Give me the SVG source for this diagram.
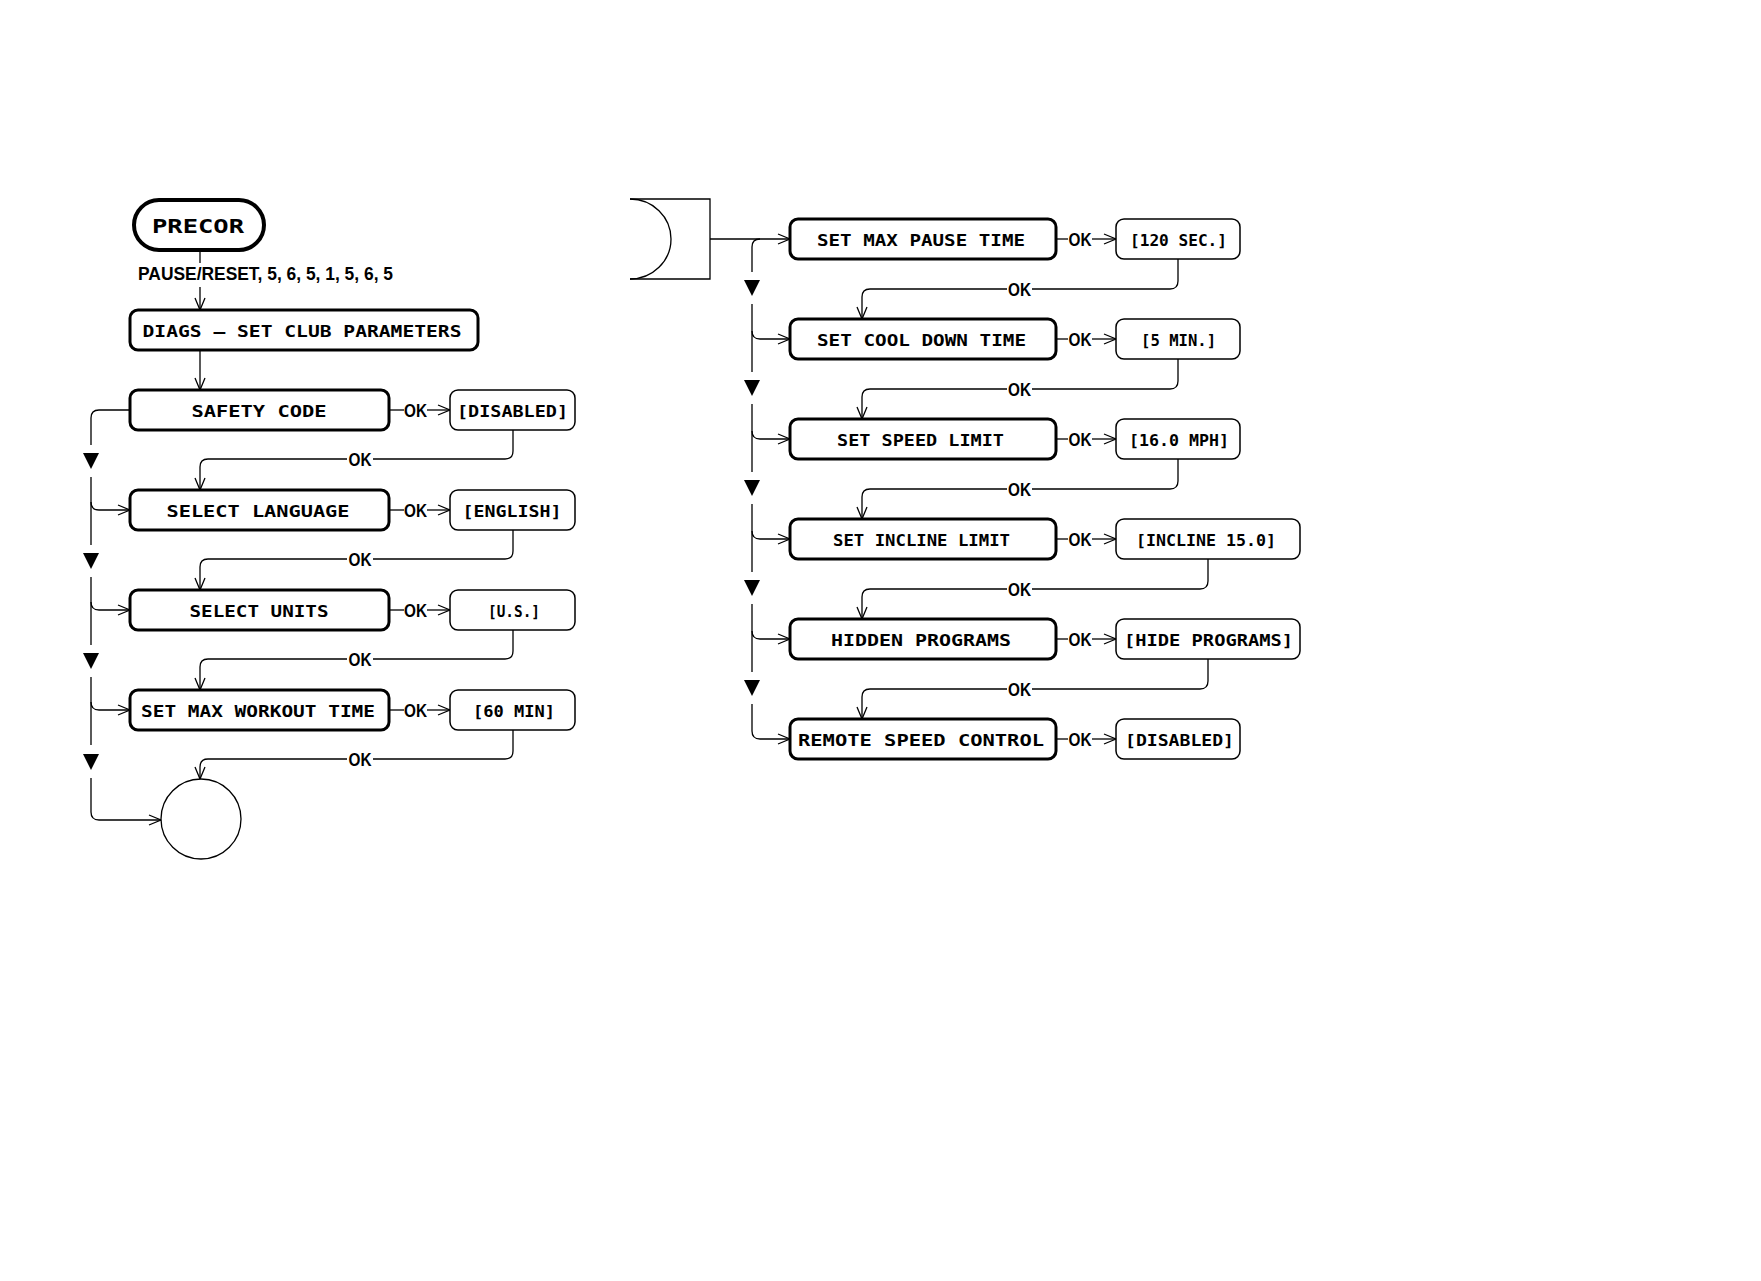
<svg xmlns="http://www.w3.org/2000/svg" width="1761" height="1281" viewBox="0 0 1761 1281">
<style>
.box{fill:#fff;stroke:#000;stroke-width:3}
.val{fill:#fff;stroke:#000;stroke-width:1.5}
.lcd{font-family:"DejaVu Sans Mono","Liberation Mono",monospace;font-weight:bold;font-size:16px;text-anchor:middle;fill:#000}
.ok{font-family:"Liberation Sans",Arial,sans-serif;font-weight:bold;font-size:19px;text-anchor:middle;fill:#000}
.c{fill:none;stroke:#000;stroke-width:1.3}
.ca{fill:none;stroke:#000;stroke-width:1.3;marker-end:url(#ah)}
.tri{fill:#000}
</style>
<defs>
<marker id="ah" markerWidth="14" markerHeight="12" refX="13" refY="6" orient="auto" markerUnits="userSpaceOnUse">
<path d="M1,1 L13,6 L1,11" fill="none" stroke="#000" stroke-width="1.3"/>
</marker>
</defs>
<rect width="1761" height="1281" fill="#fff"/>

<g id="connectors">
<!-- top -->
<path class="c" d="M200 252 V263"/>
<path class="ca" d="M200 287 V310"/>
<path class="ca" d="M200 350 V390"/>
<text class="ok" x="265.5" y="280" textLength="255" lengthAdjust="spacingAndGlyphs">PAUSE/RESET, 5, 6, 5, 1, 5, 6, 5</text>

<!-- left OK out -->
<path class="c" d="M389 410 H404"/><text class="ok" x="415.5" y="417" textLength="23" lengthAdjust="spacingAndGlyphs">OK</text><path class="ca" d="M427 410 H450"/>
<path class="c" d="M389 510 H404"/><text class="ok" x="415.5" y="517" textLength="23" lengthAdjust="spacingAndGlyphs">OK</text><path class="ca" d="M427 510 H450"/>
<path class="c" d="M389 610 H404"/><text class="ok" x="415.5" y="617" textLength="23" lengthAdjust="spacingAndGlyphs">OK</text><path class="ca" d="M427 610 H450"/>
<path class="c" d="M389 710 H404"/><text class="ok" x="415.5" y="717" textLength="23" lengthAdjust="spacingAndGlyphs">OK</text><path class="ca" d="M427 710 H450"/>

<!-- left returns -->
<path class="c" d="M513 430 V451 Q513 459 505 459 H373"/><text class="ok" x="360" y="466" textLength="23" lengthAdjust="spacingAndGlyphs">OK</text><path class="ca" d="M347 459 H208 Q200 459 200 467 V490"/>
<path class="c" d="M513 530 V551 Q513 559 505 559 H373"/><text class="ok" x="360" y="566" textLength="23" lengthAdjust="spacingAndGlyphs">OK</text><path class="ca" d="M347 559 H208 Q200 559 200 567 V590"/>
<path class="c" d="M513 630 V651 Q513 659 505 659 H373"/><text class="ok" x="360" y="666" textLength="23" lengthAdjust="spacingAndGlyphs">OK</text><path class="ca" d="M347 659 H208 Q200 659 200 667 V690"/>
<path class="c" d="M513 730 V751 Q513 759 505 759 H373"/><text class="ok" x="360" y="766" textLength="23" lengthAdjust="spacingAndGlyphs">OK</text><path class="ca" d="M347 759 H208 Q200 759 200 767 V779"/>

<!-- left skip line -->
<path class="c" d="M130 410 H99 Q91 410 91 418 V445"/>
<polygon class="tri" points="83,453 99,453 91,469"/>
<path class="c" d="M91 477 V545"/><path class="ca" d="M91 502 Q91 510 99 510 H130"/>
<polygon class="tri" points="83,553 99,553 91,569"/>
<path class="c" d="M91 577 V645"/><path class="ca" d="M91 602 Q91 610 99 610 H130"/>
<polygon class="tri" points="83,653 99,653 91,669"/>
<path class="c" d="M91 677 V745"/><path class="ca" d="M91 702 Q91 710 99 710 H130"/>
<polygon class="tri" points="83,754 99,754 91,770"/>
<path class="ca" d="M91 778 V812 Q91 820 99 820 H161"/>

<!-- right -->
<path class="ca" d="M710 239 H790"/>
<path class="c" d="M1056 239 H1068"/><text class="ok" x="1080" y="246" textLength="23" lengthAdjust="spacingAndGlyphs">OK</text><path class="ca" d="M1092 239 H1116"/>
<path class="c" d="M1056 339 H1068"/><text class="ok" x="1080" y="346" textLength="23" lengthAdjust="spacingAndGlyphs">OK</text><path class="ca" d="M1092 339 H1116"/>
<path class="c" d="M1056 439 H1068"/><text class="ok" x="1080" y="446" textLength="23" lengthAdjust="spacingAndGlyphs">OK</text><path class="ca" d="M1092 439 H1116"/>
<path class="c" d="M1056 539 H1068"/><text class="ok" x="1080" y="546" textLength="23" lengthAdjust="spacingAndGlyphs">OK</text><path class="ca" d="M1092 539 H1116"/>
<path class="c" d="M1056 639 H1068"/><text class="ok" x="1080" y="646" textLength="23" lengthAdjust="spacingAndGlyphs">OK</text><path class="ca" d="M1092 639 H1116"/>
<path class="c" d="M1056 739 H1068"/><text class="ok" x="1080" y="746" textLength="23" lengthAdjust="spacingAndGlyphs">OK</text><path class="ca" d="M1092 739 H1116"/>

<!-- right returns -->
<path class="c" d="M1178 259 V281 Q1178 289 1170 289 H1032"/><text class="ok" x="1019.5" y="296" textLength="23" lengthAdjust="spacingAndGlyphs">OK</text><path class="ca" d="M1007 289 H870 Q862 289 862 297 V319"/>
<path class="c" d="M1178 359 V381 Q1178 389 1170 389 H1032"/><text class="ok" x="1019.5" y="396" textLength="23" lengthAdjust="spacingAndGlyphs">OK</text><path class="ca" d="M1007 389 H870 Q862 389 862 397 V419"/>
<path class="c" d="M1178 459 V481 Q1178 489 1170 489 H1032"/><text class="ok" x="1019.5" y="496" textLength="23" lengthAdjust="spacingAndGlyphs">OK</text><path class="ca" d="M1007 489 H870 Q862 489 862 497 V519"/>
<path class="c" d="M1208 559 V581 Q1208 589 1200 589 H1032"/><text class="ok" x="1019.5" y="596" textLength="23" lengthAdjust="spacingAndGlyphs">OK</text><path class="ca" d="M1007 589 H870 Q862 589 862 597 V619"/>
<path class="c" d="M1208 659 V681 Q1208 689 1200 689 H1032"/><text class="ok" x="1019.5" y="696" textLength="23" lengthAdjust="spacingAndGlyphs">OK</text><path class="ca" d="M1007 689 H870 Q862 689 862 697 V719"/>

<!-- right skip line -->
<path class="c" d="M760 239 Q752 239 752 247 V272"/>
<polygon class="tri" points="744,280 760,280 752,296"/>
<path class="c" d="M752 304 V372"/><path class="ca" d="M752 331 Q752 339 760 339 H790"/>
<polygon class="tri" points="744,380 760,380 752,396"/>
<path class="c" d="M752 404 V472"/><path class="ca" d="M752 431 Q752 439 760 439 H790"/>
<polygon class="tri" points="744,480 760,480 752,496"/>
<path class="c" d="M752 504 V572"/><path class="ca" d="M752 531 Q752 539 760 539 H790"/>
<polygon class="tri" points="744,580 760,580 752,596"/>
<path class="c" d="M752 604 V672"/><path class="ca" d="M752 631 Q752 639 760 639 H790"/>
<polygon class="tri" points="744,680 760,680 752,696"/>
<path class="ca" d="M752 704 V731 Q752 739 760 739 H790"/>
</g>

<g id="precor">
<rect x="134" y="200" width="130" height="50" rx="25" fill="#fff" stroke="#000" stroke-width="4"/>
<text class="lcd" x="198" y="233" style="font-size:20px" textLength="92" lengthAdjust="spacingAndGlyphs">PRECOR</text>
</g>
<g id="diags">
<rect class="box" x="130" y="310" width="348" height="40" rx="8"/>
<text class="lcd" x="302" y="337" textLength="319" lengthAdjust="spacingAndGlyphs">DIAGS – SET CLUB PARAMETERS</text>
</g>

<g id="safety-code"><rect class="box" x="130" y="390" width="259" height="40" rx="8"/><text class="lcd" x="259" y="417" textLength="135" lengthAdjust="spacingAndGlyphs">SAFETY CODE</text></g>
<g id="safety-code-value"><rect class="val" x="450" y="390" width="125" height="40" rx="8"/><text class="lcd" x="512.5" y="417" textLength="111" lengthAdjust="spacingAndGlyphs">[DISABLED]</text></g>

<g id="select-language"><rect class="box" x="130" y="490" width="259" height="40" rx="8"/><text class="lcd" x="258" y="517" textLength="183" lengthAdjust="spacingAndGlyphs">SELECT LANGUAGE</text></g>
<g id="select-language-value"><rect class="val" x="450" y="490" width="125" height="40" rx="8"/><text class="lcd" x="512" y="517" textLength="99" lengthAdjust="spacingAndGlyphs">[ENGLISH]</text></g>

<g id="select-units"><rect class="box" x="130" y="590" width="259" height="40" rx="8"/><text class="lcd" x="259" y="617" textLength="139" lengthAdjust="spacingAndGlyphs">SELECT UNITS</text></g>
<g id="select-units-value"><rect class="val" x="450" y="590" width="125" height="40" rx="8"/><text class="lcd" x="514" y="617" textLength="52" lengthAdjust="spacingAndGlyphs">[U.S.]</text></g>

<g id="max-workout"><rect class="box" x="130" y="690" width="259" height="40" rx="8"/><text class="lcd" x="258" y="717" textLength="234" lengthAdjust="spacingAndGlyphs">SET MAX WORKOUT TIME</text></g>
<g id="max-workout-value"><rect class="val" x="450" y="690" width="125" height="40" rx="8"/><text class="lcd" x="514" y="717" textLength="82" lengthAdjust="spacingAndGlyphs">[60 MIN]</text></g>

<g id="connector-out"><circle cx="201" cy="819" r="40" fill="#fff" stroke="#000" stroke-width="1.3"/></g>

<g id="connector-in">
<path d="M630 199 H710 V279 H630" fill="none" stroke="#000" stroke-width="1.3"/>
<path d="M630 199 A41 40 0 0 1 630 279" fill="none" stroke="#000" stroke-width="1.3"/>
</g>

<g id="max-pause"><rect class="box" x="790" y="219" width="266" height="40" rx="8"/><text class="lcd" x="921" y="246" textLength="208" lengthAdjust="spacingAndGlyphs">SET MAX PAUSE TIME</text></g>
<g id="max-pause-value"><rect class="val" x="1116" y="219" width="124" height="40" rx="8"/><text class="lcd" x="1178.5" y="246" textLength="97" lengthAdjust="spacingAndGlyphs">[120 SEC.]</text></g>

<g id="cool-down"><rect class="box" x="790" y="319" width="266" height="40" rx="8"/><text class="lcd" x="921.5" y="346" textLength="209" lengthAdjust="spacingAndGlyphs">SET COOL DOWN TIME</text></g>
<g id="cool-down-value"><rect class="val" x="1116" y="319" width="124" height="40" rx="8"/><text class="lcd" x="1178.5" y="346" textLength="75" lengthAdjust="spacingAndGlyphs">[5 MIN.]</text></g>

<g id="speed-limit"><rect class="box" x="790" y="419" width="266" height="40" rx="8"/><text class="lcd" x="920.5" y="446" textLength="167" lengthAdjust="spacingAndGlyphs">SET SPEED LIMIT</text></g>
<g id="speed-limit-value"><rect class="val" x="1116" y="419" width="124" height="40" rx="8"/><text class="lcd" x="1179" y="446" textLength="100" lengthAdjust="spacingAndGlyphs">[16.0 MPH]</text></g>

<g id="incline-limit"><rect class="box" x="790" y="519" width="266" height="40" rx="8"/><text class="lcd" x="921.5" y="546" textLength="177" lengthAdjust="spacingAndGlyphs">SET INCLINE LIMIT</text></g>
<g id="incline-limit-value"><rect class="val" x="1116" y="519" width="184" height="40" rx="8"/><text class="lcd" x="1206" y="546" textLength="140" lengthAdjust="spacingAndGlyphs">[INCLINE 15.0]</text></g>

<g id="hidden-programs"><rect class="box" x="790" y="619" width="266" height="40" rx="8"/><text class="lcd" x="921" y="646" textLength="180" lengthAdjust="spacingAndGlyphs">HIDDEN PROGRAMS</text></g>
<g id="hidden-programs-value"><rect class="val" x="1116" y="619" width="184" height="40" rx="8"/><text class="lcd" x="1208.5" y="646" textLength="169" lengthAdjust="spacingAndGlyphs">[HIDE PROGRAMS]</text></g>

<g id="remote-speed"><rect class="box" x="790" y="719" width="266" height="40" rx="8"/><text class="lcd" x="921" y="746" textLength="246" lengthAdjust="spacingAndGlyphs">REMOTE SPEED CONTROL</text></g>
<g id="remote-speed-value"><rect class="val" x="1116" y="719" width="124" height="40" rx="8"/><text class="lcd" x="1179.5" y="746" textLength="109" lengthAdjust="spacingAndGlyphs">[DISABLED]</text></g>
</svg>
